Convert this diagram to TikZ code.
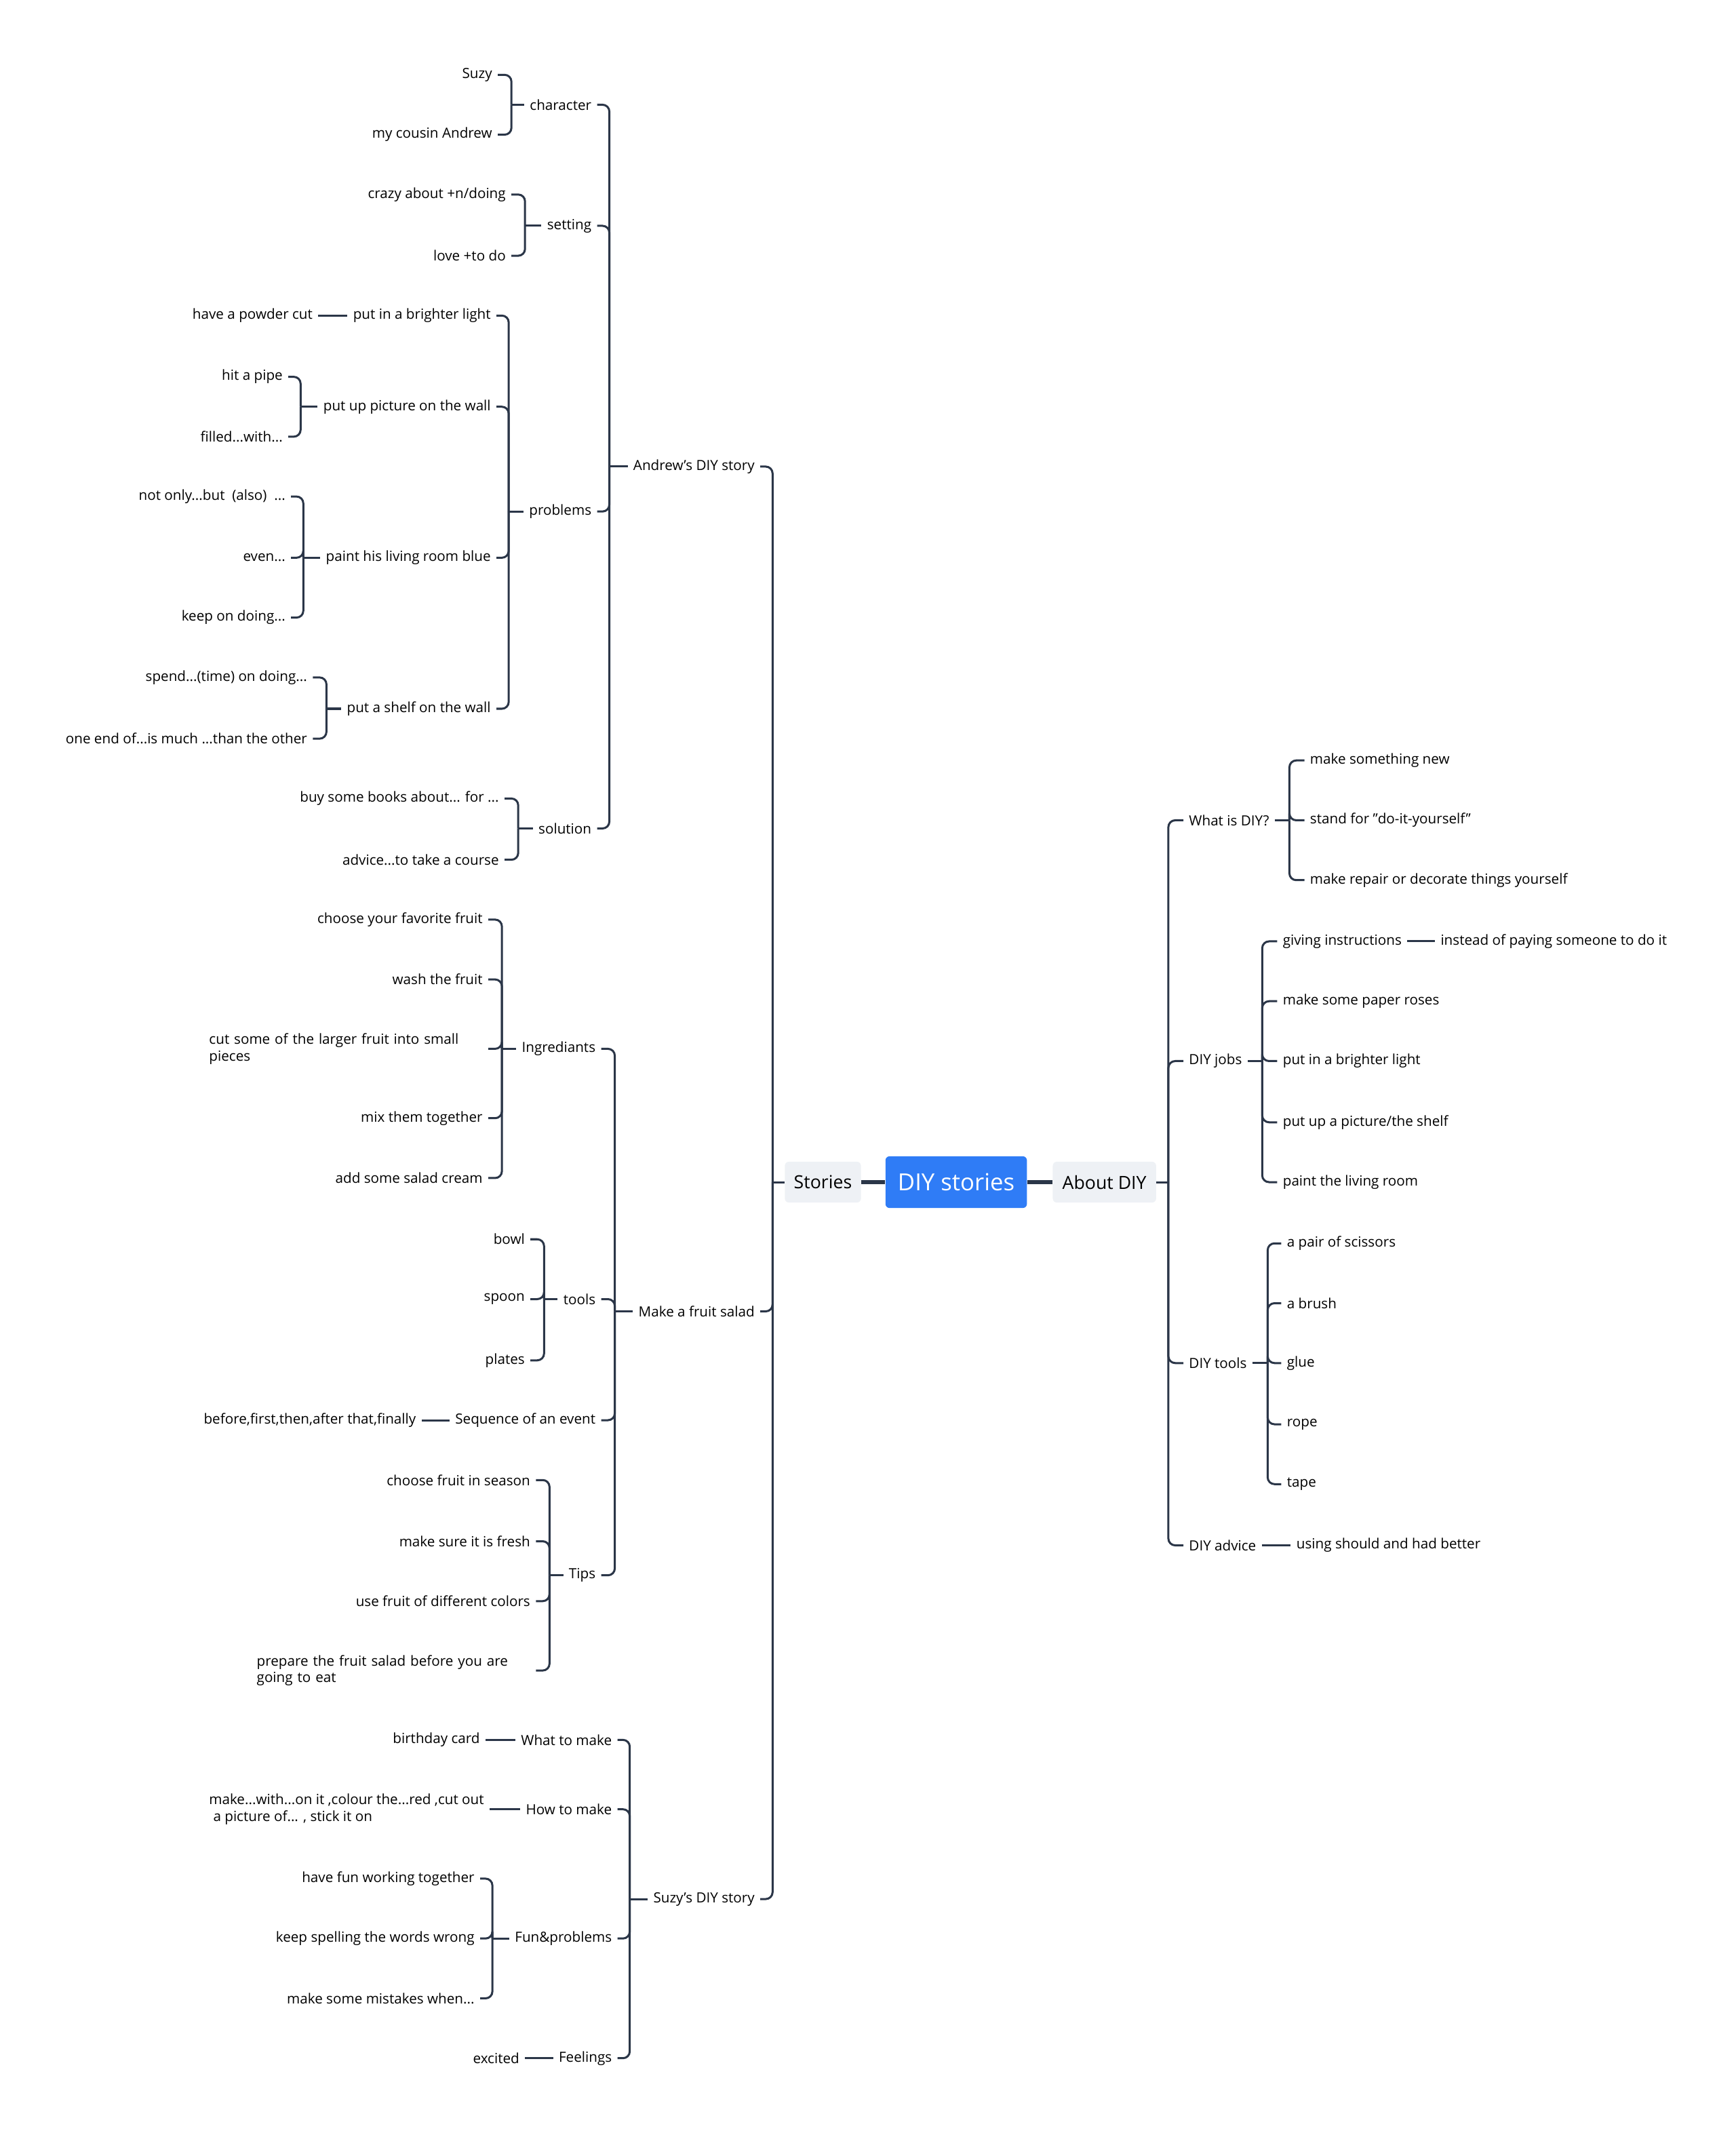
\documentclass[tikz,border=0pt]{standalone}
\usepackage{fontspec}
\setmainfont{Open Sans}
\usetikzlibrary{positioning}
\definecolor{linec}{HTML}{2B3648}
\definecolor{rootblue}{HTML}{2F7CF6}
\definecolor{subgray}{HTML}{EEF1F5}

\begin{document}
\begin{tikzpicture}[x=1pt, y=-1pt,
  tp/.style={font=\fontsize{10.3}{12.4}\selectfont, text=black, inner xsep=4pt, inner ysep=2pt},
  lt/.style={tp, anchor=east},
  rt/.style={tp, anchor=west},
  ln/.style={draw=linec, line width=1.5pt, rounded corners=5pt},
  thk/.style={draw=linec, line width=2.6pt},
  sub/.style={fill=subgray, rounded corners=3pt, font=\fontsize{13.3}{15}\selectfont, minimum height=30pt, inner xsep=2pt},
  root/.style={fill=rootblue, rounded corners=3pt, text=white, font=\fontsize{17.3}{19}\selectfont, minimum width=104pt, minimum height=38pt},
]
\useasboundingbox (0,0) rectangle (1276,1568);

% centre
\node[root] (root) at (703,869) {DIY stories};
\node[sub, minimum width=56pt] (stories) at (605,869) {Stories};
\node[sub, minimum width=76pt] (about) at (812,869) {About DIY};
\draw[thk] (stories) -- (root);
\draw[thk] (root) -- (about);

% ---------------- left: stories
\node[lt] (andrew) at (559,343) {Andrew's DIY story};
\node[lt] (salad) at (559,964) {Make a fruit salad};
\node[lt] (suzyst) at (559,1396) {Suzy's DIY story};
\coordinate (b0) at (568,869);
\draw[ln] (b0) -- (stories.west);
\foreach \c in {andrew,salad,suzyst} {\draw[ln] (b0) |- (\c.east);}

% Andrew's DIY story
\node[lt] (chr) at (439,77) {character};
\node[lt] (set) at (439,166) {setting};
\node[lt] (prob) at (439,376) {problems};
\node[lt] (sol) at (439,609) {solution};
\coordinate (bA) at (448,343);
\draw[ln] (bA) -- (andrew.west);
\foreach \c in {chr,set,prob,sol} {\draw[ln] (bA) |- (\c.east);}

\node[lt] (suzy) at (366,55) {Suzy};
\node[lt] (cousin) at (366,99) {my cousin Andrew};
\coordinate (bC) at (376,77);
\draw[ln] (bC) -- (chr.west);
\foreach \c in {suzy,cousin} {\draw[ln] (bC) |- (\c.east);}

\node[lt] (crazy) at (376,143) {crazy about +n/doing};
\node[lt] (love) at (376,188) {love +to do};
\coordinate (bS) at (386,166);
\draw[ln] (bS) -- (set.west);
\foreach \c in {crazy,love} {\draw[ln] (bS) |- (\c.east);}

\node[lt] (light) at (365,232) {put in a brighter light};
\node[lt] (pic) at (365,299) {put up picture on the wall};
\node[lt] (paint) at (365,410) {paint his living room blue};
\node[lt] (shelf) at (365,521) {put a shelf on the wall};
\coordinate (bP) at (374,376);
\draw[ln] (bP) -- (prob.west);
\foreach \c in {light,pic,paint,shelf} {\draw[ln] (bP) |- (\c.east);}

\node[lt] (powder) at (234,232) {have a powder cut};
\draw[ln] (powder.east) -- (light.west);

\node[lt] (pipe) at (212,277) {hit a pipe};
\node[lt] (filled) at (212,321) {filled...with...};
\coordinate (bPi) at (221,299);
\draw[ln] (bPi) -- (pic.west);
\foreach \c in {pipe,filled} {\draw[ln] (bPi) |- (\c.east);}

\node[lt] (notonly) at (214,365) {not only...but~ (also)~ ...};
\node[lt] (even) at (214,410) {even...};
\node[lt] (keep) at (214,454) {keep on doing...};
\coordinate (bPa) at (223,410);
\draw[ln] (bPa) -- (paint.west);
\foreach \c in {notonly,even,keep} {\draw[ln] (bPa) |- (\c.east);}

\node[lt] (spend) at (230,498) {spend...(time) on doing...};
\node[lt] (oneend) at (230,543) {one end of...is much ...than the other};
\coordinate (bSh) at (240,521);
\draw[ln] (bSh) -- (shelf.west);
\foreach \c in {spend,oneend} {\draw[ln] (bSh) |- (\c.east);}

\node[lt] (books) at (371,587) {buy some books about... for ...};
\node[lt] (course) at (371,632) {advice...to take a course};
\coordinate (bSo) at (381,609);
\draw[ln] (bSo) -- (sol.west);
\foreach \c in {books,course} {\draw[ln] (bSo) |- (\c.east);}

% Make a fruit salad
\node[lt] (ingr) at (442,771) {Ingrediants};
\node[lt] (tls) at (442,955) {tools};
\node[lt] (seq) at (442,1044) {Sequence of an event};
\node[lt] (tips) at (442,1158) {Tips};
\coordinate (bF) at (452,964);
\draw[ln] (bF) -- (salad.west);
\foreach \c in {ingr,tls,seq,tips} {\draw[ln] (bF) |- (\c.east);}

\node[lt] (fav) at (359,676) {choose your favorite fruit};
\node[lt] (wash) at (359,720) {wash the fruit};
\node[lt, text width=201pt, align=left] (cut) at (359,771) {cut some of the larger fruit into small\\pieces};
\node[lt] (mix) at (359,822) {mix them together};
\node[lt] (cream) at (359,866) {add some salad cream};
\coordinate (bI) at (369,771);
\draw[ln] (bI) -- (ingr.west);
\foreach \c in {fav,wash,cut,mix,cream} {\draw[ln] (bI) |- (\c.east);}

\node[lt] (bowl) at (390,911) {bowl};
\node[lt] (spoon) at (390,955) {spoon};
\node[lt] (plates) at (390,1000) {plates};
\coordinate (bT) at (400,955);
\draw[ln] (bT) -- (tls.west);
\foreach \c in {bowl,spoon,plates} {\draw[ln] (bT) |- (\c.east);}

\node[lt] (before) at (310,1044) {before,first,then,after that,finally};
\draw[ln] (before.east) -- (seq.west);

\node[lt] (season) at (394,1088) {choose fruit in season};
\node[lt] (fresh) at (394,1133) {make sure it is fresh};
\node[lt] (colors) at (394,1177) {use fruit of different colors};
\node[lt, text width=201pt, align=left] (prepare) at (394,1228) {prepare the fruit salad before you are\\going to eat};
\coordinate (bTi) at (404,1158);
\draw[ln] (bTi) -- (tips.west);
\foreach \c in {season,fresh,colors,prepare} {\draw[ln] (bTi) |- (\c.east);}

% Suzy's DIY story
\node[lt] (whatmk) at (454,1279) {What to make};
\node[lt] (howmk) at (454,1330) {How to make};
\node[lt] (fun) at (454,1425) {Fun\&problems};
\node[lt] (feel) at (454,1513) {Feelings};
\coordinate (bZ) at (463,1396);
\draw[ln] (bZ) -- (suzyst.west);
\foreach \c in {whatmk,howmk,fun,feel} {\draw[ln] (bZ) |- (\c.east);}

\node[lt] (card) at (357,1279) {birthday card};
\draw[ln] (card.east) -- (whatmk.west);
\node[lt, align=left] (howtxt) at (360,1330) {make...with...on it ,colour the...red ,cut out\\\hspace{0.3em}a picture of... , stick it on};
\draw[ln] (howtxt.east) -- (howmk.west);

\node[lt] (havefun) at (353,1381) {have fun working together};
\node[lt] (spell) at (353,1425) {keep spelling the words wrong};
\node[lt] (mistake) at (353,1469) {make some mistakes when...};
\coordinate (bFu) at (362,1425);
\draw[ln] (bFu) -- (fun.west);
\foreach \c in {havefun,spell,mistake} {\draw[ln] (bFu) |- (\c.east);}

\node[lt] (excited) at (386,1513) {excited};
\draw[ln] (excited.east) -- (feel.west);

% ---------------- right: about DIY
\node[rt] (what) at (870,603) {What is DIY?};
\node[rt] (jobs) at (870,780) {DIY jobs};
\node[rt] (rtools) at (870,1002) {DIY tools};
\node[rt] (advice) at (870,1136) {DIY advice};
\coordinate (b1) at (859,869);
\draw[ln] (about.east) -- (b1);
\foreach \c in {what,jobs,rtools,advice} {\draw[ln] (b1) |- (\c.west);}

\node[rt] (new) at (959,559) {make something new};
\node[rt] (stand) at (959,603) {stand for "do-it-yourself"};
\node[rt] (repair) at (959,647) {make repair or decorate things yourself};
\coordinate (bW) at (948,603);
\draw[ln] (what.east) -- (bW);
\foreach \c in {new,stand,repair} {\draw[ln] (bW) |- (\c.west);}

\node[rt] (giving) at (939,692) {giving instructions};
\node[rt] (roses) at (939,736) {make some paper roses};
\node[rt] (brighter) at (939,780) {put in a brighter light};
\node[rt] (upshelf) at (939,825) {put up a picture/the shelf};
\node[rt] (living) at (939,869) {paint the living room};
\coordinate (bJ) at (928,780);
\draw[ln] (jobs.east) -- (bJ);
\foreach \c in {giving,roses,brighter,upshelf,living} {\draw[ln] (bJ) |- (\c.west);}

\node[rt] (instead) at (1055,692) {instead of paying someone to do it};
\draw[ln] (giving.east) -- (instead.west);

\node[rt] (scissors) at (942,914) {a pair of scissors};
\node[rt] (brush) at (942,958) {a brush};
\node[rt] (glue) at (942,1002) {glue};
\node[rt] (rope) at (942,1047) {rope};
\node[rt] (tape) at (942,1091) {tape};
\coordinate (bR) at (932,1002);
\draw[ln] (rtools.east) -- (bR);
\foreach \c in {scissors,brush,glue,rope,tape} {\draw[ln] (bR) |- (\c.west);}

\node[rt] (using) at (949,1136) {using should and had better};
\draw[ln] (advice.east) -- (using.west);
\end{tikzpicture}
\end{document}
